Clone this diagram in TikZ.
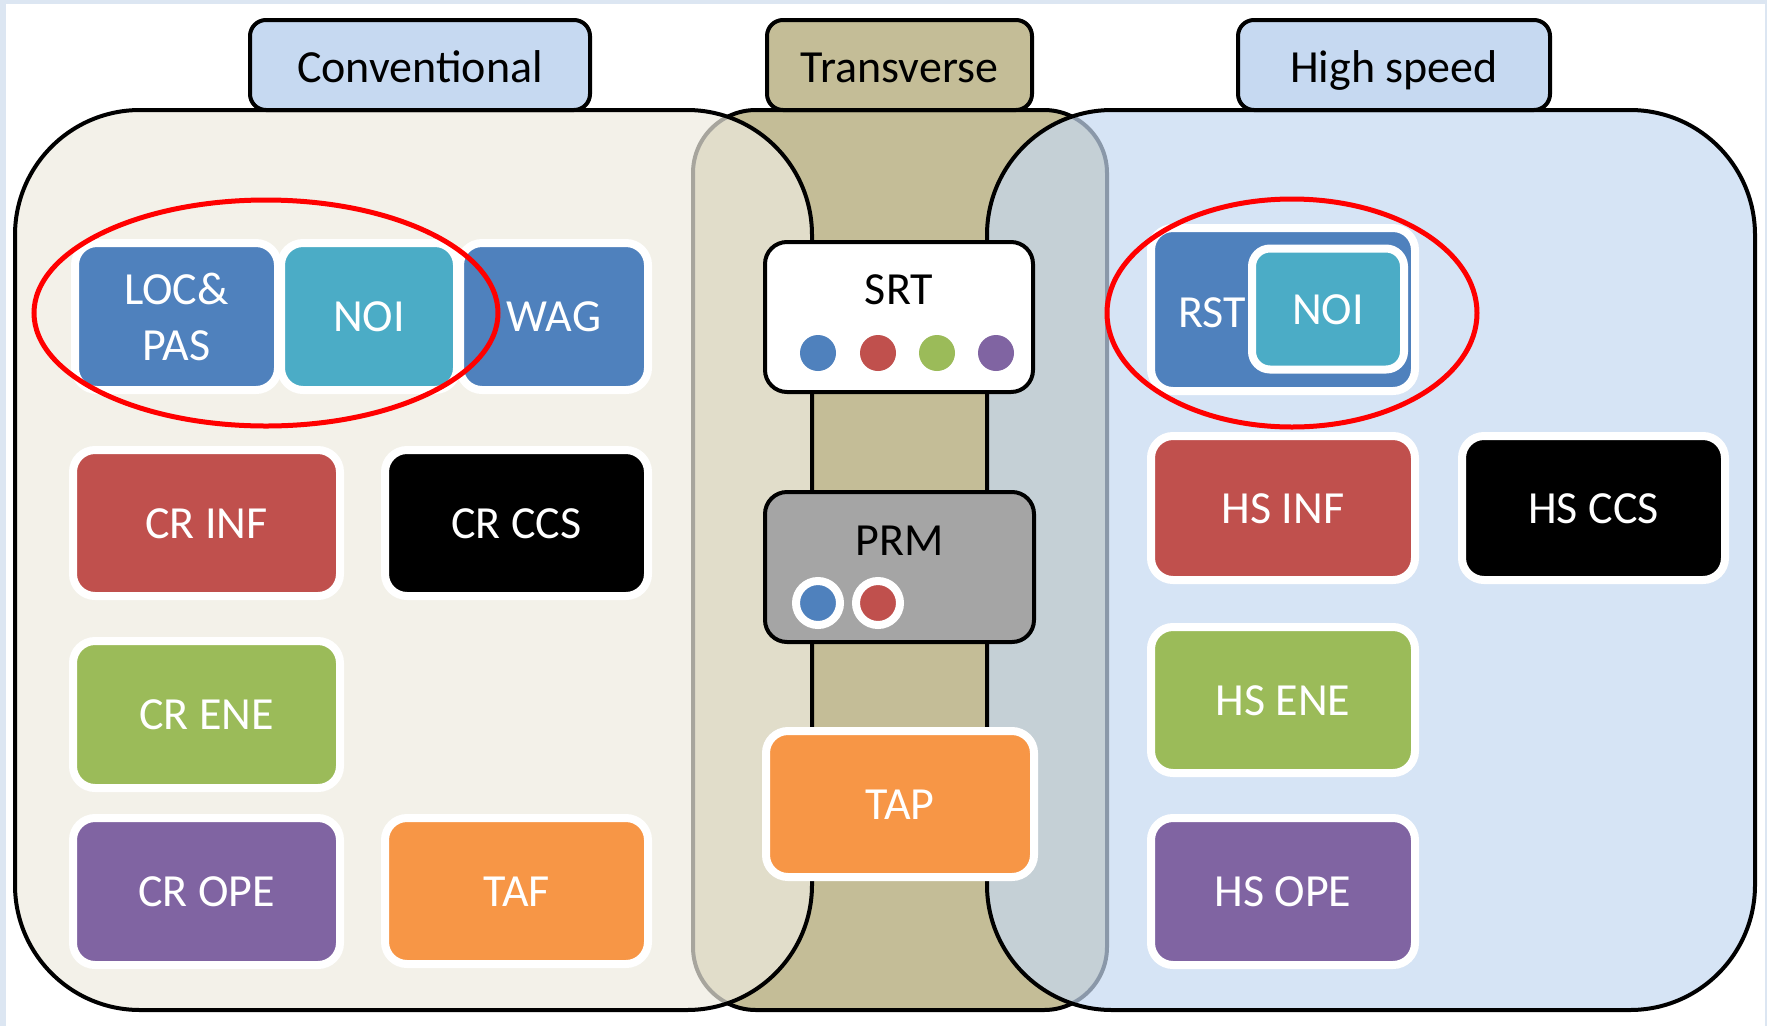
\documentclass[tikz,border=0pt]{standalone}
\usepackage{fontspec}
\setmainfont{Carlito}
\definecolor{frameblue}{HTML}{DCE6F2}
\definecolor{tanc}{HTML}{C4BD97}
\definecolor{leftfill}{HTML}{EEECE1}
\definecolor{tabblue}{HTML}{C6D9F1}
\definecolor{oblue}{HTML}{4F81BD}
\definecolor{ored}{HTML}{C0504D}
\definecolor{ogreen}{HTML}{9BBB59}
\definecolor{opurple}{HTML}{8064A2}
\definecolor{oteal}{HTML}{4BACC6}
\definecolor{oorange}{HTML}{F79646}
\definecolor{ogray}{HTML}{A5A5A5}
\definecolor{ringred}{HTML}{FF0000}
\begin{document}
\begin{tikzpicture}[x=1pt,y=-1pt,
  lbl/.style={font=\fontsize{46}{56}\selectfont},
  oneline/.style={text height=30pt, text depth=0pt},
  tabbox/.style n args={2}{draw=black, line width=4pt, rounded corners=16pt, fill=#1,
    minimum width=#2pt, minimum height=90pt, inner sep=0pt, lbl, text height=35pt, text depth=0pt, text=black},
  tilebox/.style n args={3}{draw=white, line width=8pt, rounded corners=22pt, fill=#1,
    minimum width=#2pt, minimum height=#3pt, inner sep=0pt, lbl, text=white, align=center},
  darkbox/.style n args={3}{draw=black, line width=4pt, rounded corners=22pt, fill=#1,
    minimum width=#2pt, minimum height=#3pt, inner sep=0pt},
  blackline/.style={draw=black, line width=4pt},
  dot/.style={circle, fill=#1, minimum size=36pt, inner sep=0pt},
  ringdot/.style={circle, fill=#1, draw=white, line width=8pt, minimum size=44pt, inner sep=0pt},
  ring/.style={draw=ringred, line width=5pt},
  plaintext/.style={lbl, oneline, inner sep=0pt}
]
\useasboundingbox (0,0) rectangle (1767,1026);
% frame
\fill[frameblue] (0,0) rectangle (1767,1026);
\fill[white] (6,4) rectangle (1765,1026);

% group shapes
\draw[blackline, fill=tanc, rounded corners=63pt] (693,110) rectangle (1107,1010);
\draw[blackline, fill=leftfill, fill opacity=0.7, rounded corners=125pt] (15,110) rectangle (812,1010);
\draw[blackline, fill=tabblue, fill opacity=0.7, rounded corners=125pt] (987,110) rectangle (1755,1010);

% tabs
\node[tabbox={tabblue}{340}] (conv) at (420,65) {Conventional};
\node[tabbox={tanc}{265}] (trans) at (899.5,65) {Transverse};
\node[tabbox={tabblue}{312}] (hs) at (1394,65) {High speed};

% conventional tiles
\node[tilebox={oblue}{203}{147}] (locpas) at (176.5,316.5) {LOC\&\\PAS};
\node[tilebox={oteal}{176}{147}, oneline] (noil) at (369,316.5) {NOI};
\node[tilebox={oblue}{188}{147}, oneline] (wag) at (554,316.5) {WAG};
\node[tilebox={ored}{267}{146}, oneline] (crinf) at (206.5,523) {CR INF};
\node[tilebox={black}{263}{146}, oneline] (crccs) at (516.5,523) {CR CCS};
\node[tilebox={ogreen}{267}{147}, oneline] (crene) at (206.5,714.5) {CR ENE};
\node[tilebox={opurple}{267}{147}, oneline] (crope) at (206.5,891.5) {CR OPE};
\node[tilebox={oorange}{263}{146}, oneline] (taf) at (516.5,891) {TAF};

% transverse
\node[darkbox={white}{268}{150}] (srt) at (899,317) {};
\node[plaintext, text=black] (srtt) at (899,289) {SRT};
\node[dot=oblue] (srtd1) at (818,353) {};
\node[dot=ored] (srtd2) at (878,353) {};
\node[dot=ogreen] (srtd3) at (937,353) {};
\node[dot=opurple] (srtd4) at (996,353) {};
\node[darkbox={ogray}{269}{150}] (prm) at (899.5,567) {};
\node[plaintext, text=black] (prmt) at (900,540) {PRM};
\node[ringdot=oblue] (prmd1) at (818,603) {};
\node[ringdot=ored] (prmd2) at (878,603) {};
\node[tilebox={oorange}{268}{146}, oneline] (tap) at (900,804) {TAP};

% high speed tiles
\node[tilebox={oblue}{264}{163}] (rst) at (1283,309.5) {};
\node[plaintext, text=white] (rstt) at (1212,312) {RST};
\node[draw=white, line width=8pt, rounded corners=18pt, fill=oteal, minimum width=152pt,
  minimum height=121pt, inner sep=0pt, lbl, oneline, text=white] (noir) at (1328,309) {NOI};
\node[tilebox={ored}{264}{144}, oneline] (hsinf) at (1283,508) {HS INF};
\node[tilebox={black}{263}{144}, oneline] (hsccs) at (1593.5,508) {HS CCS};
\node[tilebox={ogreen}{264}{146}, oneline] (hsene) at (1283,700) {HS ENE};
\node[tilebox={opurple}{264}{147}, oneline] (hsope) at (1283,891.5) {HS OPE};

% red rings
\draw[ring] (266,313) ellipse [x radius=232pt, y radius=113pt];
\draw[ring] (1292,313) ellipse [x radius=185pt, y radius=114pt];
\end{tikzpicture}
\end{document}
